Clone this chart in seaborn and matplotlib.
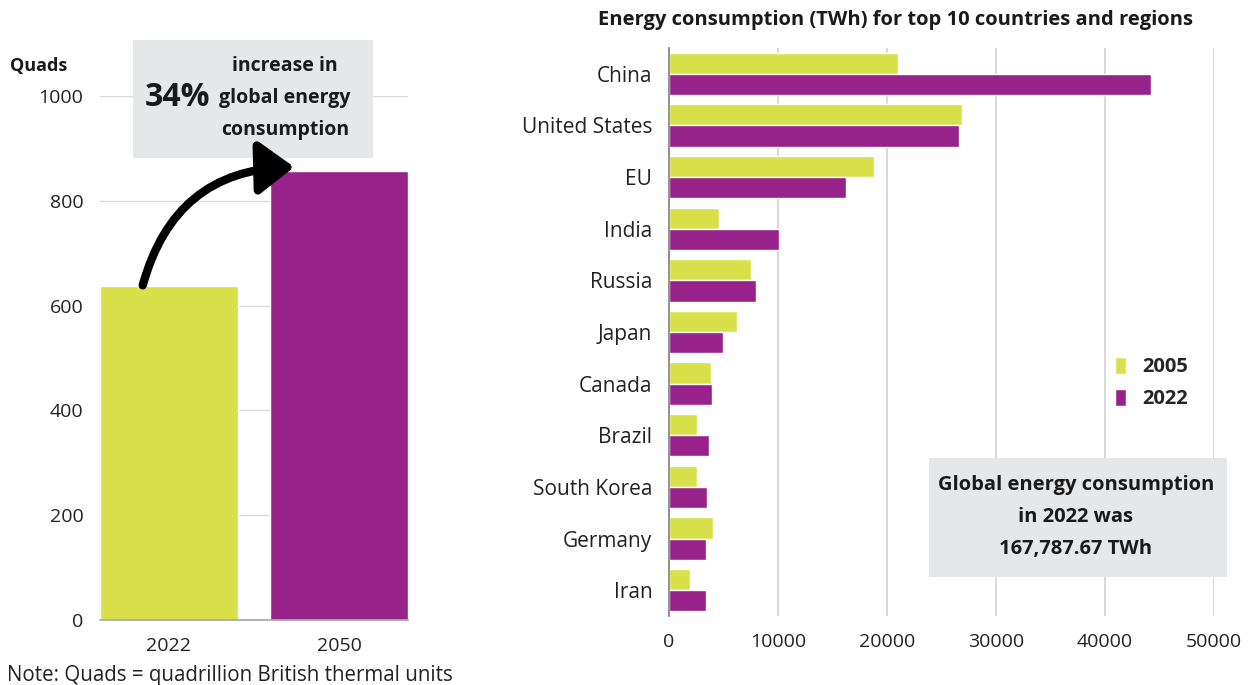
import matplotlib
matplotlib.use("Agg")
import matplotlib.pyplot as plt
import seaborn as sns
import pandas as pd
from matplotlib.patches import Rectangle, Patch

# ---- data ----
years_left = ["2022", "2050"]
quads = [637, 856]

regions = ["China", "United States", "EU", "India", "Russia", "Japan",
           "Canada", "Brazil", "South Korea", "Germany", "Iran"]
v2005 = [21000, 26900, 18800, 4600, 7500, 6250, 3850, 2550, 2600, 4000, 1950]
v2022 = [44250, 26600, 16200, 10100, 8000, 4950, 3950, 3700, 3500, 3400, 3400]
series = ["2005", "2022"]

LIME = "#D8E04A"
PURPLE = "#97238A"
GREYBOX = "#E6E7E8"
GRID = "#D9D9D9"
TXT = "#1a1a1a"

sns.set_theme(style="white")
plt.rcParams['font.family'] = ['Open Sans', 'DejaVu Sans']

fig = plt.figure(figsize=(12.52, 6.85), dpi=100)

# ---------- left chart ----------
axL = fig.add_axes([0.0799, 0.0949, 0.246, 0.765])
dfL = pd.DataFrame({"year": years_left, "quads": quads})
sns.barplot(data=dfL, x="year", y="quads", hue="year", palette=[LIME, PURPLE],
            width=0.81, legend=False, ax=axL, saturation=1)
axL.set_xlim(-0.405, 1.405)
axL.set_ylim(0, 1000)
axL.set_yticks([0, 200, 400, 600, 800, 1000])
axL.yaxis.grid(True, color=GRID, lw=1)
axL.set_axisbelow(True)
for s in ["top", "right", "left"]:
    axL.spines[s].set_visible(False)
axL.spines["bottom"].set_color("#A6A6A6")
axL.spines["bottom"].set_linewidth(1.2)
axL.tick_params(axis="both", length=0, labelsize=14, colors="#222222", pad=12)
axL.set_xlabel("")
axL.set_ylabel("")

fig.text(10/1252, 1-66/685, "Quads", fontsize=13, fontweight="bold",
         color=TXT, va="center", ha="left")

# grey annotation box (left)
fig.patches.append(Rectangle((133/1252, 1-158/685), 240/1252, 118/685,
                             transform=fig.transFigure, facecolor=GREYBOX,
                             edgecolor="none", zorder=5))
fig.text(177/1252, 1-97/685, "34%", fontsize=23, fontweight="bold", color=TXT,
         ha="center", va="center", zorder=6)
for txt, y in [("increase in", 66), ("global energy", 98), ("consumption", 130)]:
    fig.text(285/1252, 1-y/685, txt, fontsize=14, fontweight="bold", color=TXT,
             ha="center", va="center", zorder=6)

# curved arrow
fig.patches.append(matplotlib.patches.FancyArrowPatch(
    (142/1252, 1-288/685), (297/1252, 1-167/685), transform=fig.transFigure,
    connectionstyle="arc3,rad=-0.38",
    arrowstyle="-|>,head_length=1.2,head_width=0.9", mutation_scale=18,
    lw=6, color="black", zorder=7))

# ---------- right chart ----------
axR = fig.add_axes([0.5343, 0.1007, 0.4353, 0.8292])
dfR = pd.DataFrame({
    "region": regions * 2,
    "value": v2005 + v2022,
    "series": [series[0]] * len(regions) + [series[1]] * len(regions),
})
sns.barplot(data=dfR, y="region", x="value", hue="series", hue_order=series,
            palette=[LIME, PURPLE], orient="h", width=0.82, ax=axR,
            saturation=1, edgecolor="white", linewidth=1)
axR.set_xlim(0, 50000)
axR.set_ylim(len(regions) - 0.5, -0.5)
axR.set_xticks([0, 10000, 20000, 30000, 40000, 50000])
axR.set_xticklabels(["0", "10000", "20000", "30000", "40000", "50000"])
axR.xaxis.grid(True, color=GRID, lw=1.5)
axR.set_axisbelow(True)
for s in ["top", "right", "bottom"]:
    axR.spines[s].set_visible(False)
axR.spines["left"].set_color("#808080")
axR.spines["left"].set_linewidth(1.2)
axR.tick_params(axis="x", length=0, labelsize=14, colors="#222222", pad=12)
axR.tick_params(axis="y", length=0, labelsize=15, colors="#222222", pad=12)
axR.set_xlabel("")
axR.set_ylabel("")

handles = [Patch(facecolor=LIME), Patch(facecolor=PURPLE)]
leg = axR.legend(handles, series, loc="center left", bbox_to_anchor=(0.785, 0.41),
                 frameon=False, handlelength=0.55, handleheight=0.9,
                 handletextpad=0.8, labelspacing=0.6,
                 prop={"size": 14.5, "weight": "bold"})

fig.text(895/1252, 1-20/685, "Energy consumption (TWh) for top 10 countries and regions",
         fontsize=14.5, fontweight="bold", color=TXT, ha="center", va="center")

# grey annotation box (right)
fig.patches.append(Rectangle((929/1252, 1-577/685), 298/1252, 119/685,
                             transform=fig.transFigure, facecolor=GREYBOX,
                             edgecolor="none", zorder=5))
for txt, y in [("Global energy consumption", 485), ("in 2022 was", 517),
               ("167,787.67 TWh", 549)]:
    fig.text(1076/1252, 1-y/685, txt, fontsize=14.5, fontweight="bold", color=TXT,
             ha="center", va="center", zorder=6)

fig.text(7/1252, 1-676/685, "Note: Quads = quadrillion British thermal units",
         fontsize=14.8, color="#222222", ha="left", va="center")

fig.savefig("out.png", dpi=100)
